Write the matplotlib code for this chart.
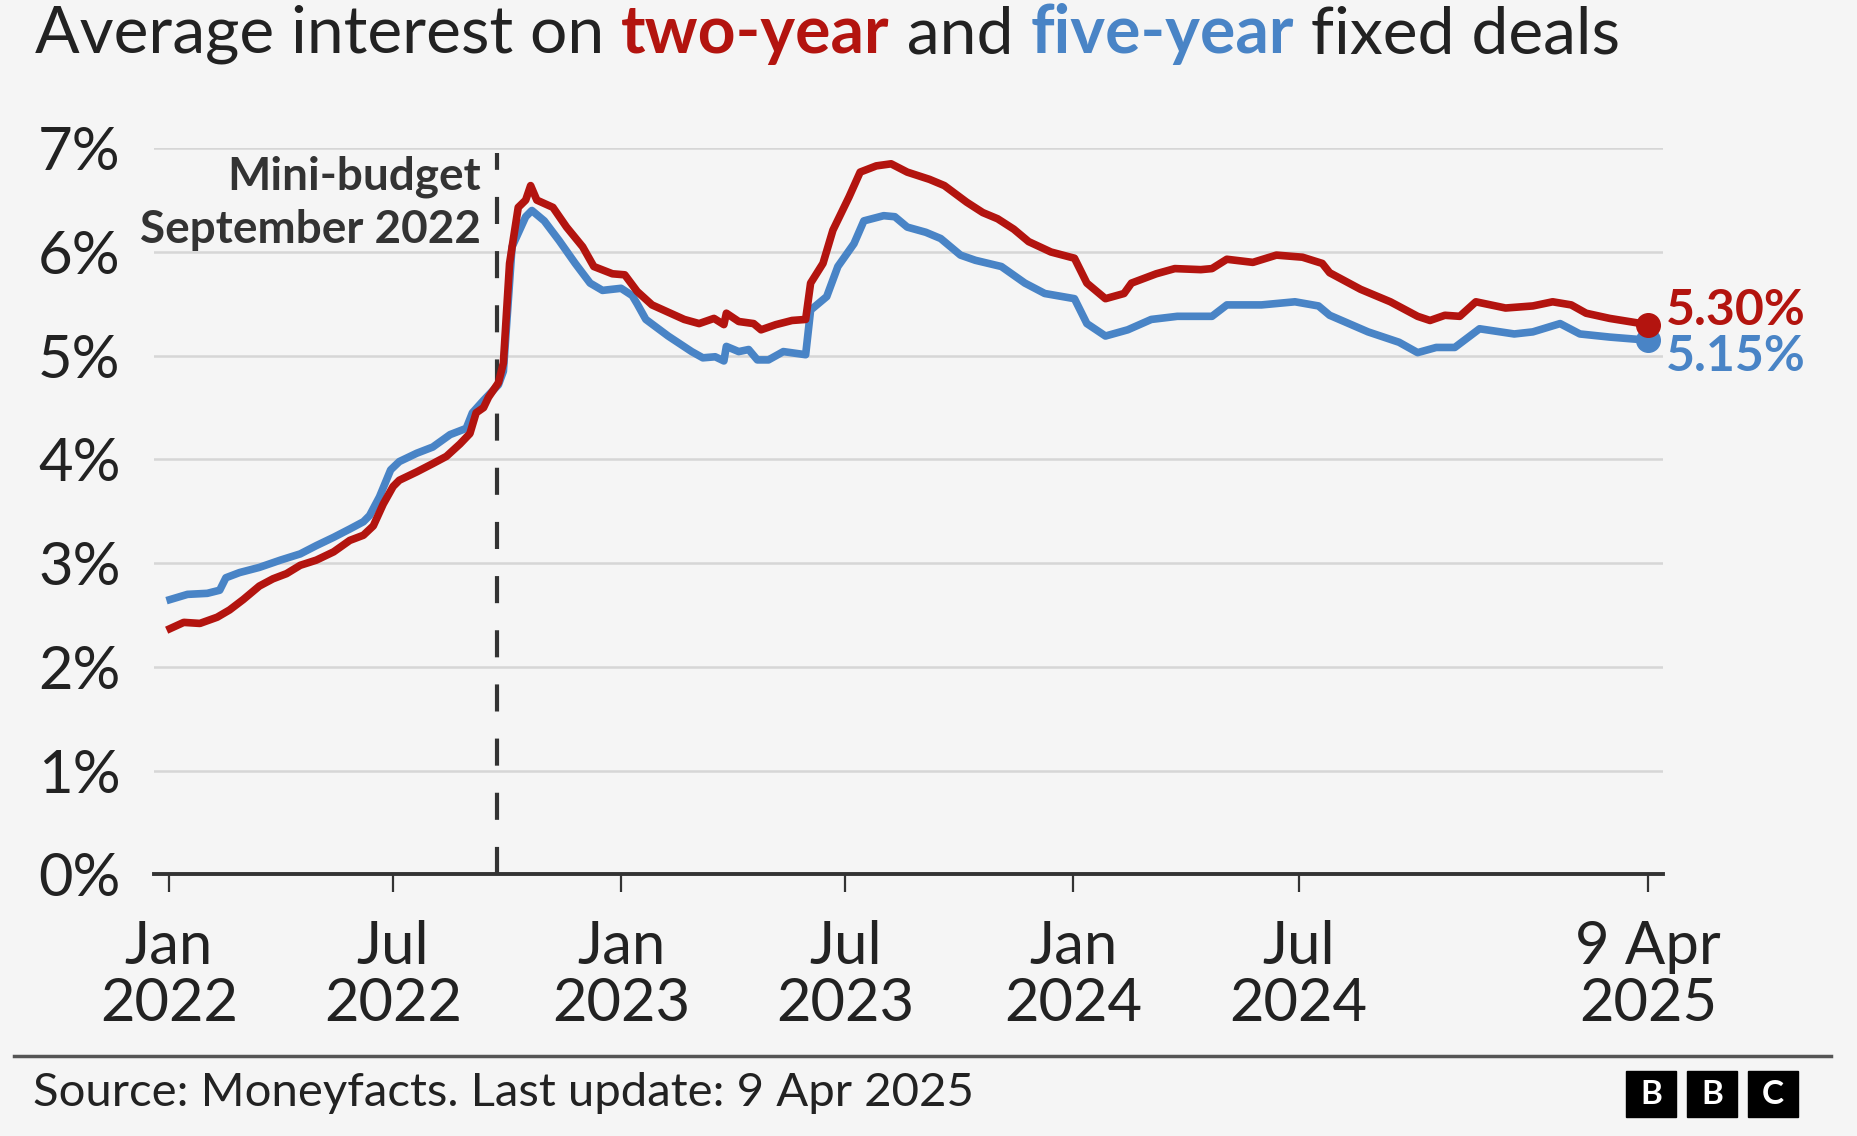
import pandas as pd
import matplotlib.pyplot as plt
from matplotlib.patches import Rectangle

plt.rcParams['font.family'] = ['Lato', 'DejaVu Sans']

# Two-year fixed deals (%)
two_year_dates = [
    "2022-01-02", "2022-01-13", "2022-01-26", "2022-02-09", "2022-02-19", "2022-03-02",
    "2022-03-15", "2022-03-26", "2022-04-06", "2022-04-17", "2022-04-30", "2022-05-14",
    "2022-05-27", "2022-06-07", "2022-06-15", "2022-06-23", "2022-07-01", "2022-07-06",
    "2022-07-20", "2022-08-02", "2022-08-13", "2022-08-24", "2022-09-01", "2022-09-06",
    "2022-09-12", "2022-09-16", "2022-09-24", "2022-09-28", "2022-10-03", "2022-10-10",
    "2022-10-16", "2022-10-20", "2022-10-25", "2022-11-07", "2022-11-18", "2022-12-01",
    "2022-12-10", "2022-12-25", "2023-01-04", "2023-01-14", "2023-01-26", "2023-02-08",
    "2023-02-21", "2023-03-05", "2023-03-17", "2023-03-25", "2023-03-27", "2023-04-06",
    "2023-04-18", "2023-04-24", "2023-05-06", "2023-05-19", "2023-05-30", "2023-06-03",
    "2023-06-13", "2023-06-21", "2023-07-04", "2023-07-13", "2023-07-26", "2023-08-07",
    "2023-08-20", "2023-09-07", "2023-09-19", "2023-10-07", "2023-10-20", "2023-11-01",
    "2023-11-14", "2023-11-26", "2023-12-14", "2024-01-02", "2024-01-12", "2024-01-27",
    "2024-02-11", "2024-02-17", "2024-03-08", "2024-03-23", "2024-04-13", "2024-04-22",
    "2024-05-04", "2024-05-25", "2024-06-13", "2024-07-04", "2024-07-20", "2024-07-26",
    "2024-08-20", "2024-09-13", "2024-10-05", "2024-10-15", "2024-10-27", "2024-11-08",
    "2024-11-21", "2024-12-15", "2025-01-06", "2025-01-22", "2025-02-06", "2025-02-18",
    "2025-03-09", "2025-04-09",
]
two_year_rates = [
    2.37, 2.43, 2.42, 2.48, 2.55, 2.65,
    2.78, 2.85, 2.90, 2.98, 3.03, 3.11,
    3.22, 3.27, 3.36, 3.57, 3.74, 3.80,
    3.88, 3.96, 4.03, 4.15, 4.25, 4.45,
    4.50, 4.60, 4.74, 4.93, 5.89, 6.43,
    6.50, 6.64, 6.50, 6.43, 6.24, 6.05,
    5.86, 5.79, 5.78, 5.62, 5.49, 5.42,
    5.35, 5.31, 5.36, 5.30, 5.41, 5.33,
    5.31, 5.25, 5.30, 5.34, 5.35, 5.70,
    5.89, 6.21, 6.53, 6.77, 6.83, 6.85,
    6.77, 6.70, 6.64, 6.48, 6.38, 6.32,
    6.22, 6.10, 6.00, 5.94, 5.70, 5.55,
    5.60, 5.70, 5.79, 5.84, 5.83, 5.84,
    5.93, 5.90, 5.97, 5.95, 5.89, 5.80,
    5.64, 5.52, 5.38, 5.34, 5.39, 5.38,
    5.52, 5.46, 5.48, 5.52, 5.49, 5.41,
    5.36, 5.30,
]

# Five-year fixed deals (%)
five_year_dates = [
    "2022-01-02", "2022-01-16", "2022-02-01", "2022-02-11", "2022-02-16", "2022-02-27",
    "2022-03-15", "2022-04-01", "2022-04-17", "2022-04-30", "2022-05-14", "2022-05-27",
    "2022-06-07", "2022-06-12", "2022-06-20", "2022-06-29", "2022-07-06", "2022-07-20",
    "2022-08-02", "2022-08-16", "2022-08-29", "2022-09-03", "2022-09-12", "2022-09-24",
    "2022-09-28", "2022-10-05", "2022-10-16", "2022-10-21", "2022-10-31", "2022-11-12",
    "2022-11-25", "2022-12-07", "2022-12-17", "2023-01-01", "2023-01-10", "2023-01-14",
    "2023-01-21", "2023-02-08", "2023-02-27", "2023-03-08", "2023-03-18", "2023-03-25",
    "2023-03-27", "2023-04-06", "2023-04-14", "2023-04-21", "2023-04-30", "2023-05-12",
    "2023-05-30", "2023-06-03", "2023-06-16", "2023-06-25", "2023-07-08", "2023-07-16",
    "2023-08-01", "2023-08-10", "2023-08-20", "2023-09-04", "2023-09-16", "2023-10-02",
    "2023-10-14", "2023-11-04", "2023-11-23", "2023-12-09", "2024-01-02", "2024-01-12",
    "2024-01-27", "2024-02-14", "2024-03-04", "2024-03-25", "2024-04-22", "2024-05-04",
    "2024-06-01", "2024-06-28", "2024-07-17", "2024-07-26", "2024-08-26", "2024-09-20",
    "2024-10-05", "2024-10-20", "2024-11-04", "2024-11-24", "2024-12-22", "2025-01-06",
    "2025-01-28", "2025-02-13", "2025-03-09", "2025-04-09",
]
five_year_rates = [
    2.65, 2.70, 2.71, 2.74, 2.86, 2.91,
    2.96, 3.03, 3.09, 3.17, 3.25, 3.33,
    3.40, 3.46, 3.64, 3.90, 3.98, 4.06,
    4.12, 4.24, 4.30, 4.45, 4.57, 4.72,
    4.85, 6.05, 6.34, 6.40, 6.30, 6.11,
    5.89, 5.70, 5.63, 5.65, 5.58, 5.50,
    5.35, 5.19, 5.04, 4.98, 4.99, 4.95,
    5.09, 5.04, 5.06, 4.96, 4.96, 5.04,
    5.01, 5.44, 5.57, 5.86, 6.08, 6.30,
    6.35, 6.34, 6.24, 6.19, 6.13, 5.97,
    5.92, 5.86, 5.70, 5.60, 5.55, 5.31,
    5.19, 5.25, 5.35, 5.38, 5.38, 5.49,
    5.49, 5.52, 5.48, 5.39, 5.23, 5.13,
    5.03, 5.08, 5.08, 5.26, 5.21, 5.23,
    5.31, 5.21, 5.18, 5.15,
]

tick_dates = ["2022-01-01", "2022-07-01", "2023-01-01", "2023-07-01",
              "2024-01-01", "2024-07-01", "2025-04-09"]
tick_labels = ["Jan\n2022", "Jul\n2022", "Jan\n2023", "Jul\n2023",
               "Jan\n2024", "Jul\n2024", "9 Apr\n2025"]
y_ticks = [0, 1, 2, 3, 4, 5, 6, 7]
mini_budget_date = "2022-09-23"

RED = "#B3140F"
BLUE = "#4984C6"
BG = "#F5F5F5"
DARK = "#222222"

two = pd.Series(two_year_rates, index=pd.to_datetime(two_year_dates))
five = pd.Series(five_year_rates, index=pd.to_datetime(five_year_dates))

fig = plt.figure(figsize=(18.58, 11.36), dpi=100, facecolor=BG)
ax = fig.add_axes([0.0829, 0.2302, 0.8121, 0.6393])
ax.set_facecolor(BG)

ax.plot(five.index, five.values, color=BLUE, lw=5.5, solid_joinstyle="round", zorder=3)
ax.plot(two.index, two.values, color=RED, lw=5.5, solid_joinstyle="round", zorder=4)
ax.plot(five.index[-1], five.values[-1], "o", color=BLUE, ms=17, zorder=5)
ax.plot(two.index[-1], two.values[-1], "o", color=RED, ms=17, zorder=6)

# end labels
ax.annotate(f"{two.values[-1]:.2f}%", (two.index[-1], two.values[-1]),
            xytext=(13, 10), textcoords="offset points", va="center", ha="left",
            color=RED, fontsize=36, fontweight="bold", annotation_clip=False)
ax.annotate(f"{five.values[-1]:.2f}%", (five.index[-1], five.values[-1]),
            xytext=(13, -12), textcoords="offset points", va="center", ha="left",
            color=BLUE, fontsize=36, fontweight="bold", annotation_clip=False)

# mini-budget marker
mb = pd.Timestamp(mini_budget_date)
ax.plot([mb, mb], [0, 6.95], color="#333333", lw=3, dashes=(6.5, 6.5), zorder=2, clip_on=False)
ax.text(mb - pd.Timedelta(days=13), 6.47, "Mini-budget\nSeptember 2022", ha="right", va="center",
        fontsize=33, fontweight="bold", color="#333333", linespacing=1.35)

ax.set_xlim(pd.Timestamp("2021-12-20"), pd.Timestamp("2025-04-21"))
ax.set_ylim(0, 7)
ax.set_yticks(y_ticks)
ax.set_yticklabels([f"{v}%" for v in y_ticks], fontsize=43, color=DARK)
ax.set_xticks(pd.to_datetime(tick_dates))
ax.set_xticklabels(tick_labels, fontsize=43, color=DARK, linespacing=1.05)
ax.tick_params(axis="y", length=0, pad=24)
ax.tick_params(axis="x", length=13, width=1.6, color="#333333", pad=20)
ax.grid(axis="y", color="#D6D6D6", lw=1.8)
ax.set_axisbelow(True)
for s in ["top", "right", "left"]:
    ax.spines[s].set_visible(False)
ax.spines["bottom"].set_color("#333333")
ax.spines["bottom"].set_linewidth(2.8)

# title with coloured words
renderer = fig.canvas.get_renderer()
pieces = [("Average interest on ", DARK, "normal"), ("two-year", RED, "bold"),
          (" and ", DARK, "normal"), ("five-year", BLUE, "bold"),
          (" fixed deals", DARK, "normal")]
x = 35 / 1858
for txt, col, wt in pieces:
    t = fig.text(x, 1 - 53 / 1136, txt, fontsize=47.5, color=col, fontweight=wt, va="baseline", ha="left")
    bb = t.get_window_extent(renderer=renderer)
    x += bb.width / fig.bbox.width

# footer
fig.add_artist(plt.Line2D([14 / 1858, 1831 / 1858], [1 - 1056 / 1136] * 2, color="#555555", lw=2.5))
fig.text(33 / 1858, 1 - 1106 / 1136, "Source: Moneyfacts. Last update: 9 Apr 2025",
         fontsize=34, color=DARK, va="baseline", ha="left")
for i, letter in enumerate("BBC"):
    x0 = (1626 + i * 61) / 1858
    fig.add_artist(Rectangle((x0, 1 - 1117 / 1136), 50 / 1858, 46 / 1136,
                             transform=fig.transFigure, color="black"))
    fig.text(x0 + 25 / 1858, 1 - 1094 / 1136, letter, color="white", fontsize=24,
             fontweight="bold", ha="center", va="center")

fig.savefig("out.png", dpi=100, facecolor=BG)
